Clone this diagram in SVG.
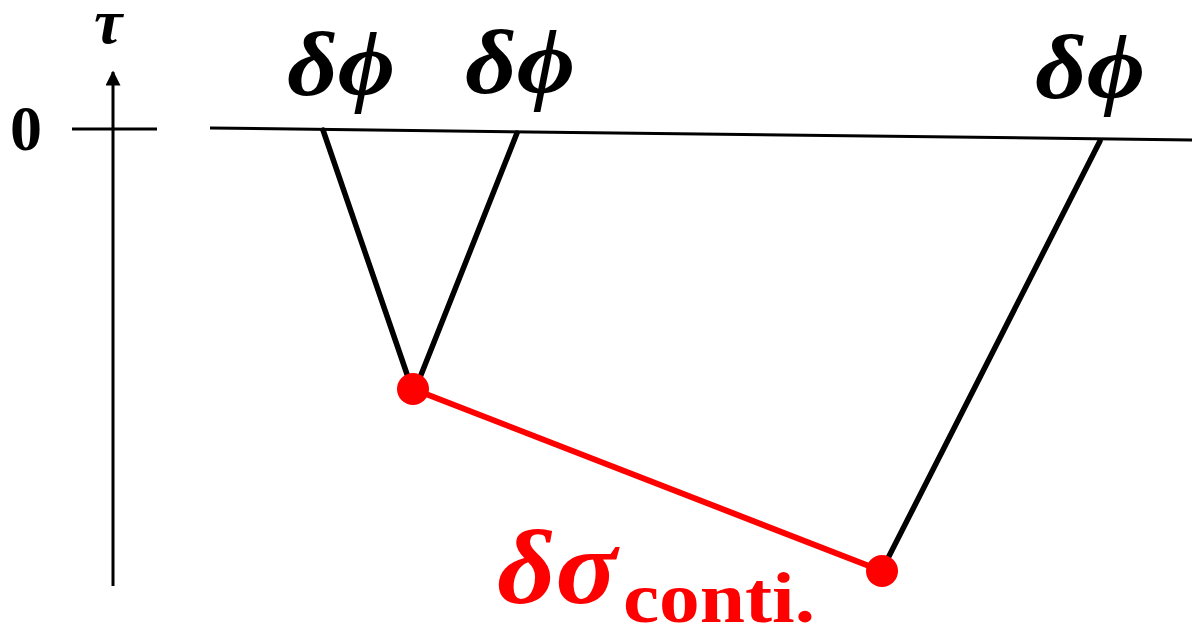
<svg xmlns="http://www.w3.org/2000/svg" width="1192" height="629" viewBox="0 0 1192 629">
<style>
.ax{stroke:#000;stroke-width:3;fill:none}
.bl{stroke:#000;stroke-width:5.5;fill:none;stroke-linecap:round}
.rd{stroke:#f00;stroke-width:6;fill:none}
.lab{font-family:"Liberation Serif","DejaVu Serif",serif;font-weight:bold;font-style:italic;fill:#000}
.red{fill:#f00}
</style>
<defs>
<marker id="arr" viewBox="0 0 10 10" refX="9" refY="5" markerWidth="5" markerHeight="5" orient="auto" markerUnits="strokeWidth"><path d="M0,0 L10,5 L0,10 z" fill="#000"/></marker>
</defs>
<g id="axis">
<line class="ax" x1="113" y1="586" x2="113" y2="72" marker-end="url(#arr)"/>
<line class="ax" x1="72" y1="129" x2="157" y2="129"/>
<text x="10" y="150" font-family="Liberation Serif,serif" font-weight="bold" font-size="64">0</text>
<text class="lab" x="94" y="43" font-size="64">τ</text>
</g>
<g id="connectors">
<line class="ax" x1="210" y1="128" x2="1192" y2="140"/>
<line class="bl" x1="323" y1="130" x2="409" y2="380"/>
<line class="bl" x1="517" y1="133" x2="419" y2="380"/>
<line class="bl" x1="1100" y1="141" x2="884" y2="566"/>
<line class="rd" x1="413" y1="389" x2="882" y2="571"/>
</g>
<g id="node-a"><circle cx="413" cy="389" r="16" fill="#f00"/></g>
<g id="node-b"><circle cx="882" cy="571" r="16" fill="#f00"/></g>
<g id="labels">
<text class="lab" x="287" y="95" font-size="92" textLength="108" lengthAdjust="spacingAndGlyphs">δϕ</text>
<text class="lab" x="465" y="93" font-size="92" textLength="110" lengthAdjust="spacingAndGlyphs">δϕ</text>
<text class="lab" x="1035" y="98" font-size="92" textLength="110" lengthAdjust="spacingAndGlyphs">δϕ</text>
<text class="lab red" x="497" y="603" font-size="106" textLength="120" lengthAdjust="spacingAndGlyphs">δσ</text>
<text class="red" x="623" y="622" font-family="Liberation Serif,serif" font-weight="bold" font-size="72" textLength="192" lengthAdjust="spacingAndGlyphs">conti.</text>
</g>
</svg>
